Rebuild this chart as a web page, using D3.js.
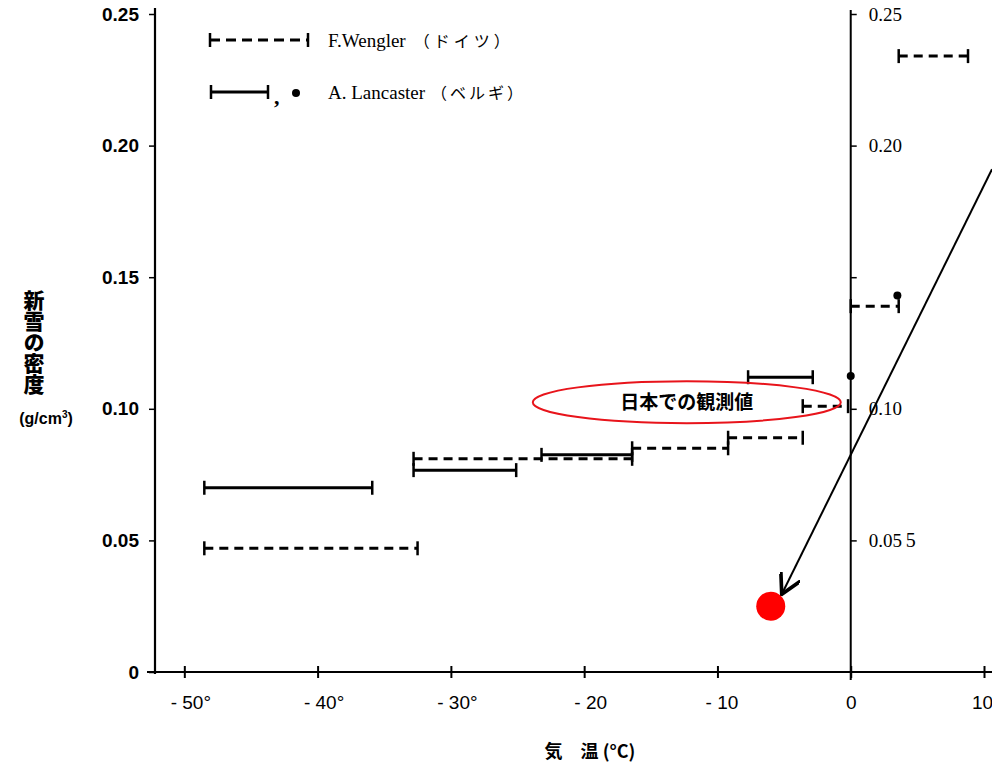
<!DOCTYPE html>
<html>
<head>
<meta charset="utf-8">
<script src="https://cdn.jsdelivr.net/npm/d3@7"></script>
<style>
  body { margin:0; background:#fff; }
  #canvas { width:992px; height:768px; }
  .tick text { fill:#000; }
</style>
</head>
<body>
<div id="canvas" class="canvas"></div>
<script>
// temperature ranges (deg C) and snow density (g/cm3)
var wenglerFrom    = [-48.5, -32.8, -16.4, -9.2, -3.6, 0.0, 3.6];
var wenglerTo      = [-32.5, -16.4,  -9.2, -3.6, -0.2, 3.6, 8.8];
var wenglerDensity = [0.047, 0.081, 0.085, 0.089, 0.101, 0.139, 0.234];

var lancasterFrom    = [-48.5, -32.8, -23.2, -7.7];
var lancasterTo      = [-35.9, -25.1, -16.4, -2.85];
var lancasterDensity = [0.070, 0.0767, 0.0825, 0.112];
var lancasterPointT  = [0.0, 3.5];
var lancasterPointD  = [0.1125, 0.143];

var xTicks = [-50, -40, -30, -20, -10, 0, 10];
var xTickLabels = ['- 50°', '- 40°', '- 30°', '- 20', '- 10', '0', '10'];
var yTicks = [0, 0.05, 0.10, 0.15, 0.20, 0.25];
var yTickLabels = ['0', '0.05', '0.10', '0.15', '0.20', '0.25'];
var yRightLabels = ['', '0.05', '0.10', '', '0.20', '0.25'];

// japanese observation marker
var japanT = -6.0, japanD = 0.025;

var m = {t:14, r:0, b:96, l:155};
var outerWidth = 992, outerHeight = 768;
var w = outerWidth - m.l - m.r,
    h = outerHeight - m.t - m.b;

var svg = d3.select('.canvas')
    .append('svg')
    .attr('width', outerWidth)
    .attr('height', outerHeight);
var plot = svg.append('g')
    .attr('transform', 'translate(' + m.l + ',' + m.t + ')');

var scaleX = d3.scaleLinear().domain([-52.2, 10.6]).range([0, w]);
var scaleY = d3.scaleLinear().domain([0, 0.25]).range([h, 0]);

var numFont = '"Liberation Sans Narrow","Liberation Sans",sans-serif';
var serifFont = '"Liberation Serif","Noto Sans CJK JP",serif';

// left axis
var axisY = d3.axisLeft(scaleY)
    .tickValues(yTicks)
    .tickSize(6)
    .tickPadding(10)
    .tickFormat(function(d, i){ return yTickLabels[i]; });
var gy = plot.append('g').attr('class','axis axis-y').call(axisY);
gy.select('.domain').remove();
gy.selectAll('.tick line').attr('stroke','#000').attr('stroke-width',1.5);
gy.selectAll('.tick text').attr('font-family', numFont).attr('font-size', 19).attr('font-weight','bold');
plot.append('line')
    .attr('x1',0).attr('x2',0).attr('y1',-6).attr('y2',h+2)
    .attr('stroke','#000').attr('stroke-width',2.2);

// right axis at 0 deg
var axisR = d3.axisRight(scaleY)
    .tickValues(yTicks.slice(1))
    .tickSize(6)
    .tickPadding(12)
    .tickFormat(function(d, i){ return yRightLabels[i+1]; });
var gr = plot.append('g').attr('class','axis axis-r')
    .attr('transform','translate(' + scaleX(0) + ',0)')
    .call(axisR);
gr.select('.domain').remove();
gr.selectAll('.tick line').attr('stroke','#000').attr('stroke-width',1.5);
gr.selectAll('.tick text').attr('font-family', serifFont).attr('font-size', 19);
plot.append('line')
    .attr('x1',scaleX(0)).attr('x2',scaleX(0)).attr('y1',-4).attr('y2',h+8)
    .attr('stroke','#000').attr('stroke-width',2);
plot.append('text')
    .attr('x', scaleX(0) + 55).attr('y', scaleY(0.05) + 7)
    .attr('font-family', serifFont).attr('font-size', 20)
    .text('5');

// bottom axis
var axisX = d3.axisBottom(scaleX)
    .tickValues(xTicks)
    .tickSize(0)
    .tickPadding(24)
    .tickFormat(function(d, i){ return xTickLabels[i]; });
var gx = plot.append('g').attr('class','axis axis-x')
    .attr('transform','translate(0,' + h + ')')
    .call(axisX);
gx.select('.domain').remove();
gx.selectAll('.tick line').attr('y1',-6).attr('y2',6).attr('stroke','#000').attr('stroke-width',2);
gx.selectAll('.tick text').attr('font-family', numFont).attr('font-size', 19)
    .attr('dx', function(d){ return d < -10 ? 6 : (d < 0 ? 4 : (d > 0 ? -2 : 0)); });
plot.append('line')
    .attr('x1',-8).attr('x2',w).attr('y1',h).attr('y2',h)
    .attr('stroke','#000').attr('stroke-width',2.2);

// axis titles
svg.append('text')
    .attr('x', 590).attr('y', 758)
    .attr('text-anchor','middle')
    .attr('font-family','"Noto Sans CJK JP",sans-serif').attr('font-size',18)
    .attr('font-weight','bold')
    .text('気　温 (°C)');
svg.append('text')
    .attr('transform','translate(34,290)')
    .attr('font-family','"Noto Sans CJK JP",sans-serif').attr('font-size',21)
    .attr('font-weight','900')
    .attr('writing-mode','vertical-rl')
    .attr('glyph-orientation-vertical', 0)
    .text('新雪の密度');
svg.append('text')
    .attr('x', 46).attr('y', 424)
    .attr('text-anchor','middle')
    .attr('font-family','"Liberation Sans",sans-serif').attr('font-size',16)
    .attr('font-weight','bold')
    .html('(g/cm<tspan dy="-6" font-size="10">3</tspan><tspan dy="6">)</tspan>');

// range bars
function drawRange(x1, x2, d, dashed) {
    var g = plot.append('g');
    g.append('line')
        .attr('x1', scaleX(x1)).attr('x2', scaleX(x2))
        .attr('y1', scaleY(d)).attr('y2', scaleY(d))
        .attr('stroke','#000').attr('stroke-width', 3)
        .attr('stroke-dasharray', dashed ? '9,6' : null);
    [x1, x2].forEach(function(x){
        g.append('line')
            .attr('x1', scaleX(x)).attr('x2', scaleX(x))
            .attr('y1', scaleY(d) - 7).attr('y2', scaleY(d) + 7)
            .attr('stroke','#000').attr('stroke-width', 2.5);
    });
}
wenglerDensity.forEach(function(d, i){
    drawRange(wenglerFrom[i], wenglerTo[i], d, true);
});
lancasterDensity.forEach(function(d, i){
    drawRange(lancasterFrom[i], lancasterTo[i], d, false);
});
lancasterPointD.forEach(function(d, i){
    plot.append('circle')
        .attr('cx', scaleX(lancasterPointT[i])).attr('cy', scaleY(d))
        .attr('r', 4).attr('fill','#000');
});

// legend
var legend = svg.append('g');
function legendRange(x1, x2, y, dashed) {
    legend.append('line').attr('x1',x1).attr('x2',x2).attr('y1',y).attr('y2',y)
        .attr('stroke','#000').attr('stroke-width',3)
        .attr('stroke-dasharray', dashed ? '10,6' : null);
    [x1, x2].forEach(function(x){
        legend.append('line').attr('x1',x).attr('x2',x).attr('y1',y-7).attr('y2',y+7)
            .attr('stroke','#000').attr('stroke-width',2.5);
    });
}
legendRange(210, 308, 40, true);
legendRange(211, 268, 92, false);
legend.append('text').attr('x',274).attr('y',104)
    .attr('font-family',serifFont).attr('font-size',22).attr('font-weight','bold').text(',');
legend.append('circle').attr('cx',296).attr('cy',93).attr('r',4).attr('fill','#000');
var t1 = legend.append('text').attr('x',328).attr('y',47)
    .attr('font-family',serifFont).attr('font-size',19);
t1.append('tspan').text('F.Wengler');
t1.append('tspan').attr('dx',8).attr('font-size',16).attr('letter-spacing',4).text('（ドイツ）');
var t2 = legend.append('text').attr('x',328).attr('y',99)
    .attr('font-family',serifFont).attr('font-size',19);
t2.append('tspan').text('A. Lancaster');
t2.append('tspan').attr('dx',6).attr('font-size',16).attr('letter-spacing',3).text('（ベルギ）');

// annotation: observed values in Japan
plot.append('ellipse')
    .attr('cx', scaleX(-12.3)).attr('cy', scaleY(0.1025))
    .attr('rx', 154).attr('ry', 21)
    .attr('fill','none').attr('stroke','#e8141b').attr('stroke-width',2);
plot.append('text')
    .attr('x', scaleX(-12.3)).attr('y', scaleY(0.1025) + 7)
    .attr('text-anchor','middle')
    .attr('font-family','"Noto Sans CJK JP",sans-serif').attr('font-size',19)
    .attr('font-weight','bold')
    .text('日本での観測値');

svg.append('defs').append('marker')
    .attr('id','arrow')
    .attr('viewBox','0 0 12 12')
    .attr('refX',11).attr('refY',6)
    .attr('markerWidth',22).attr('markerHeight',22)
    .attr('markerUnits','userSpaceOnUse')
    .attr('orient','auto')
    .append('path')
    .attr('d','M0,0 L11,6 L0,12')
    .attr('fill','none').attr('stroke','#000').attr('stroke-width',2);
plot.append('line')
    .attr('x1', scaleX(10.6)).attr('y1', scaleY(0.191))
    .attr('x2', scaleX(japanT) + 11).attr('y2', scaleY(japanD) - 12)
    .attr('stroke','#000').attr('stroke-width',2)
    .attr('marker-end','url(#arrow)');
plot.append('circle')
    .attr('cx', scaleX(japanT)).attr('cy', scaleY(japanD))
    .attr('r', 14.5).attr('fill','#ff0000');
</script>
</body>
</html>
